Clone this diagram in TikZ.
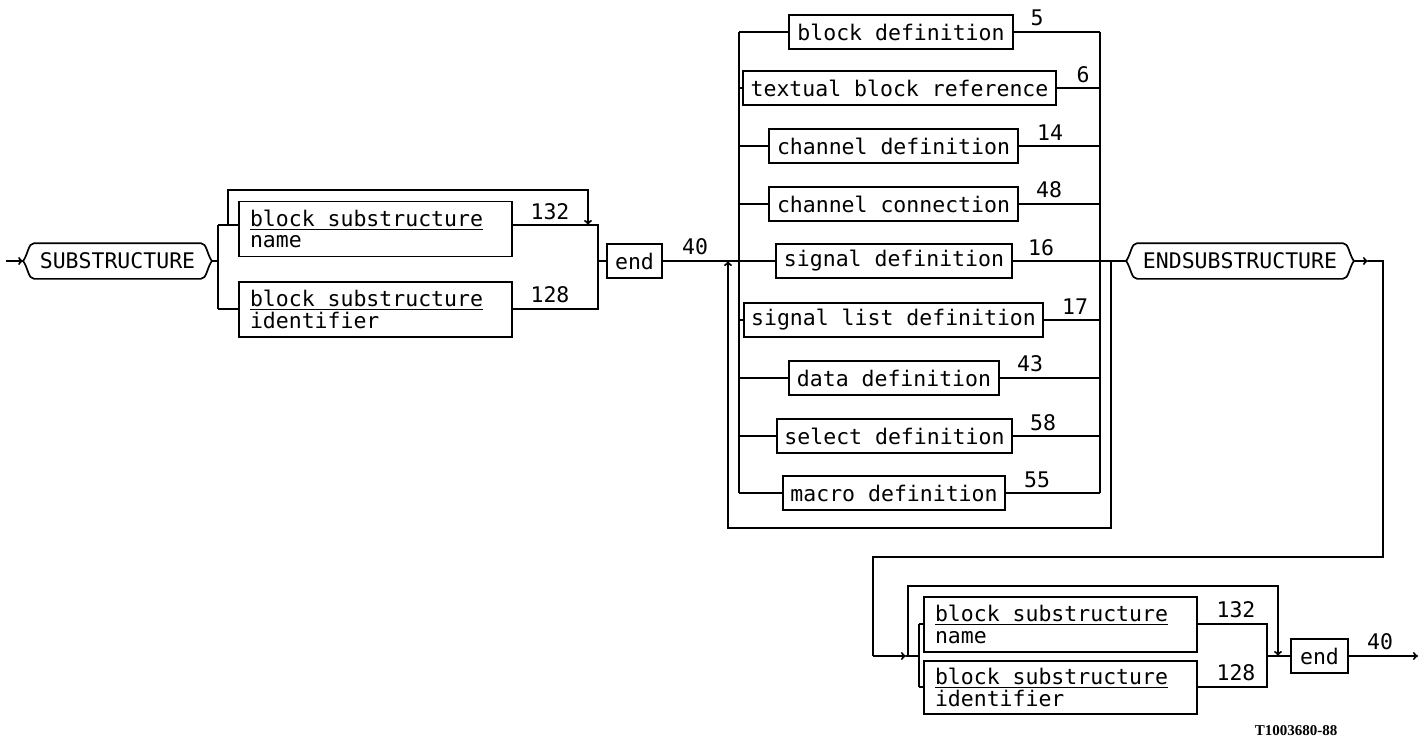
\documentclass[tikz,border=0pt]{standalone}
\usepackage{fontspec}
\newfontfamily\plotfont{DejaVu Sans Mono}
\newfontfamily\idfont{Liberation Serif}
\usetikzlibrary{arrows.meta}
\newcommand\drawterm[1]{%
 \draw ([xshift=11pt]#1.north west) -- ([xshift=-11pt]#1.north east)
   .. controls +(6pt,0pt) and +(-5pt,7pt) .. (#1.east)
   .. controls +(-5pt,-7pt) and +(6pt,0pt) .. ([xshift=-11pt]#1.south east)
   -- ([xshift=11pt]#1.south west)
   .. controls +(-6pt,0pt) and +(5pt,-7pt) .. (#1.west)
   .. controls +(5pt,7pt) and +(-6pt,0pt) .. ([xshift=11pt]#1.north west);}
\newcommand\myul[1]{\setbox0=\hbox{\spaceskip=0pt\xspaceskip=0pt #1}\rlap{\rule[-3.5pt]{\wd0}{1.3pt}}\box0}
\begin{document}
\begin{tikzpicture}[x=1pt,y=-1pt,
  line width=1.7pt,
  every node/.style={font=\plotfont\fontsize{21.5}{21.5}\selectfont},
  box/.style={draw, rectangle, minimum height=34pt, inner xsep=2pt, inner ysep=0pt},
  twobox/.style={draw, rectangle, minimum height=55pt, text width=251pt, align=left, inner xsep=11pt, inner ysep=0pt},
  term/.style={rectangle, minimum height=34pt, inner sep=0pt},
  num/.style={inner sep=0pt},
  arr/.style={-{To[length=5pt,width=8pt]}},
  idlabel/.style={inner sep=0pt, font=\idfont\bfseries\fontsize{15}{15}\selectfont}
]
\useasboundingbox (0,0) rectangle (1427,741);

% ---------- top left ----------
\node[term, minimum width=187pt] (sub) at (117.5,261) {SUBSTRUCTURE};
\drawterm{sub}
\coordinate (in) at (6,261);
\draw[arr] (in) -- (sub.west);

\node[twobox] (nb1) at (375.5,229) {\myul{block substructure}\\name};
\node[twobox] (ib1) at (375.5,309.5) {\myul{block substructure}\\identifier};

\coordinate (j1) at (218,261);
\coordinate (j1t) at (218,225);
\coordinate (j1b) at (218,309);
\draw (sub.east) -- (j1);
\draw (j1t) -- (j1b);
\draw (j1t) -- (j1t -| nb1.west);
\draw (j1b) -- (j1b -| ib1.west);

\coordinate (k1) at (598,261);
\coordinate (k1t) at (598,225);
\coordinate (k1b) at (598,309);
\draw (nb1.east |- k1t) -- (k1t) -- (k1b) -- (ib1.east |- k1b);
\node[num] (n132a) at (550,212) {132};
\node[num] (n128a) at (550,295) {128};

\coordinate (by1s) at (228,225);
\coordinate (by1e) at (588,225);
\draw[arr] (by1s) -- ++(0,-35) -| (by1e);

\node[box, minimum width=55pt] (end1) at (634.5,261) {end};
\draw (k1) -- (end1.west);
\node[num] (n40a) at (695,247) {40};

% ---------- alternatives ----------
\node[box, minimum width=224pt] (a1) at (901,32) {block definition};
\node[box, minimum width=313pt] (a2) at (899.5,88) {textual block reference};
\node[box, minimum width=249pt] (a3) at (893.5,146) {channel definition};
\node[box, minimum width=249pt] (a4) at (893.5,204) {channel connection};
\node[box, minimum width=236pt] (a5) at (894,261) {signal definition};
\node[box, minimum width=299pt] (a6) at (893.5,320) {signal list definition};
\node[box, minimum width=210pt] (a7) at (894,378) {data definition};
\node[box, minimum width=235pt] (a8) at (894.5,436) {select definition};
\node[box, minimum width=222pt] (a9) at (894,493) {macro definition};

\coordinate (L1) at (739,32);
\coordinate (L9) at (739,493);
\coordinate (R1) at (1100,32);
\coordinate (R9) at (1100,493);
\draw (L1) -- (L9);
\draw (R1) -- (R9);
\foreach \n in {a1,a2,a3,a4,a6,a7,a8,a9}{
  \draw (\n.west -| L1) -- (\n.west);
  \draw (\n.east) -- (\n.east -| R1);
}
\draw (end1.east) -- (a5.west);

\node[num] (l5) at (1037,18) {5};
\node[num] (l6) at (1083,75) {6};
\node[num] (l14) at (1050,133) {14};
\node[num] (l48) at (1049,190) {48};
\node[num] (l16) at (1041,248) {16};
\node[num] (l17) at (1075,307) {17};
\node[num] (l43) at (1030,364) {43};
\node[num] (l58) at (1043,423) {58};
\node[num] (l55) at (1037,480) {55};

% ---------- ENDSUBSTRUCTURE ----------
\node[term, minimum width=226pt] (endsub) at (1240,261) {ENDSUBSTRUCTURE};
\drawterm{endsub}
\draw (a5.east) -- (endsub.west);

\coordinate (lb1) at (1111,261);
\coordinate (lbb) at (1111,528);
\coordinate (lb2) at (728,261);
\draw[arr] (lb1) -- (lbb) -| (lb2);

\coordinate (ex1) at (1368,261);
\coordinate (ex2) at (1383,557);
\coordinate (ex3) at (873,656);
\coordinate (ent2) at (906,656);
\draw[arr] (endsub.east) -- (ex1);
\draw (ex1) -| (ex2) -| (ex3);
\draw[arr] (ex3) -- (ent2);

% ---------- bottom ----------
\node[twobox] (nb2) at (1060.5,624.5) {\myul{block substructure}\\name};
\node[twobox, minimum height=53pt] (ib2) at (1060.5,687.5) {\myul{block substructure}\\identifier};

\coordinate (j2) at (919,656);
\coordinate (j2t) at (919,624);
\coordinate (j2b) at (919,687);
\draw (ent2) -- (j2);
\draw (j2t) -- (j2b);
\draw (j2t) -- (j2t -| nb2.west);
\draw (j2b) -- (j2b -| ib2.west);

\coordinate (k2) at (1267,656);
\coordinate (k2t) at (1267,624);
\coordinate (k2b) at (1267,687);
\draw (nb2.east |- k2t) -- (k2t) -- (k2b) -- (ib2.east |- k2b);
\node[num] (n132b) at (1236,610) {132};
\node[num] (n128b) at (1236,673) {128};

\coordinate (by2s) at (908,656);
\coordinate (by2e) at (1278,656);
\draw[arr] (by2s) -- ++(0,-70) -| (by2e);

\node[box, minimum width=57pt] (end2) at (1319.5,656) {end};
\draw (k2) -- (end2.west);
\node[num] (n40b) at (1380,642) {40};
\coordinate (out) at (1418,656);
\draw[arr] (end2.east) -- (out);

\node[idlabel] (tid) at (1296,731) {T1003680-88};
\end{tikzpicture}
\end{document}
